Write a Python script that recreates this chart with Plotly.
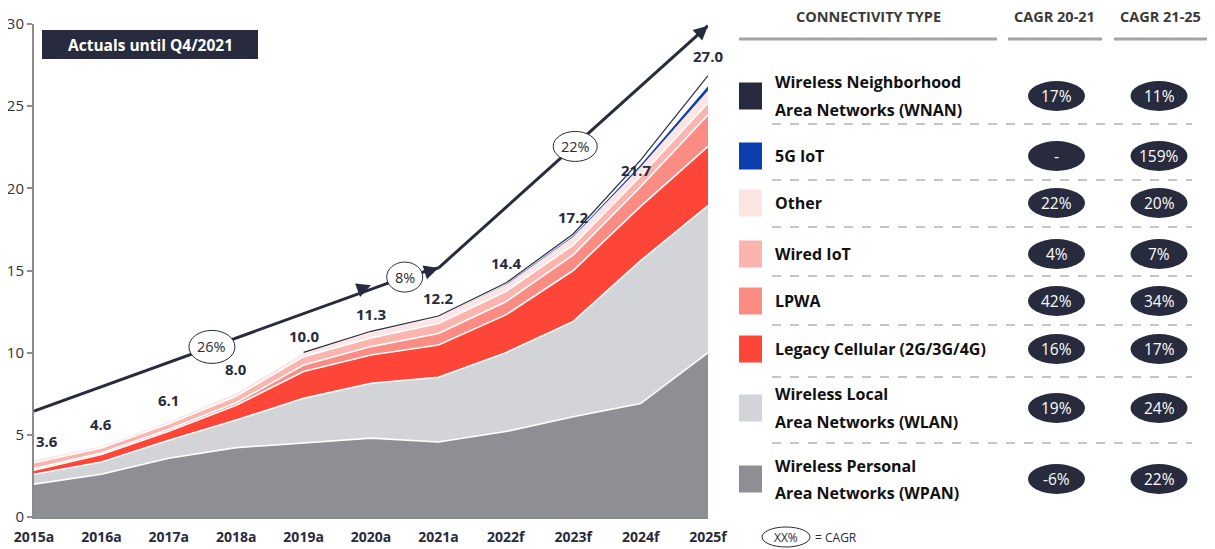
import plotly.graph_objects as go
import numpy as np

# ---------------- data ----------------
years = ["2015a", "2016a", "2017a", "2018a", "2019a", "2020a", "2021a", "2022f", "2023f", "2024f", "2025f"]
wpan = [2.0, 2.6, 3.57, 4.22, 4.5, 4.8, 4.56, 5.2, 6.1, 6.9, 10.0]
wlan = [0.6, 0.75, 1.1, 1.68, 2.72, 3.34, 3.94, 4.8, 5.8, 8.7, 8.95]
legacy = [0.25, 0.45, 0.55, 0.9, 1.63, 1.72, 1.97, 2.3, 3.1, 3.3, 3.6]
lpwa = [0.1, 0.1, 0.12, 0.15, 0.4, 0.51, 0.7, 0.8, 0.95, 1.2, 1.93]
wired = [0.35, 0.3, 0.34, 0.4, 0.51, 0.53, 0.61, 0.62, 0.6, 0.65, 0.73]
other = [0.15, 0.1, 0.12, 0.18, 0.21, 0.34, 0.37, 0.4, 0.5, 0.55, 0.75]
g5iot = [0, 0, 0, 0, 0, 0, 0, 0.02, 0.05, 0.12, 0.25]
wnan = [0, 0, 0, 0, 0.05, 0.06, 0.08, 0.1, 0.12, 0.3, 0.65]
totals = [3.6, 4.6, 6.1, 8.0, 10.0, 11.3, 12.2, 14.4, 17.2, 21.7, 27.0]
y_ticks = [0, 5, 10, 15, 20, 25, 30]

cagr_labels = ["26%", "8%", "22%"]
conn_types = ["Wireless Neighborhood<br>Area Networks (WNAN)", "5G IoT", "Other", "Wired IoT", "LPWA",
              "Legacy Cellular (2G/3G/4G)", "Wireless Local<br>Area Networks (WLAN)",
              "Wireless Personal<br>Area Networks (WPAN)"]
cagr_20_21 = ["17%", "-", "22%", "4%", "42%", "16%", "19%", "-6%"]
cagr_21_25 = ["11%", "159%", "20%", "7%", "34%", "17%", "24%", "22%"]
headers = ["CONNECTIVITY TYPE", "CAGR 20-21", "CAGR 21-25"]

# ---------------- styles ----------------
C_WNAN = "#272b3d"
C_5G = "#0b3fae"
C_OTHER = "#fde5e3"
C_WIRED = "#fbb5ae"
C_LPWA = "#fa8c83"
C_LEG = "#fd4538"
C_WLAN = "#d3d4d7"
C_WPAN = "#8d8f95"
DARK = "#272b3d"
FONT = "Open Sans, sans-serif"

OFF = 8                      # page body margin
W, H = 1215 - OFF, 549 - OFF
L, R, T, B = 34 - OFF, 0, 24 - OFF, 549 - 517
PW, PH = W - L - R, H - T - B


def PX(px):
    return (px - OFF - L) / PW


def PY(py):
    return (H - B - (py - OFF)) / PH


xi = list(range(len(years)))
fig = go.Figure()

layers = [
    ("WPAN", wpan, C_WPAN, "white", 1.6),
    ("WLAN", wlan, C_WLAN, "white", 1.6),
    ("Legacy", legacy, C_LEG, "white", 1.6),
    ("LPWA", lpwa, C_LPWA, "white", 1.6),
    ("Wired", wired, C_WIRED, "white", 1.6),
    ("Other", other, C_OTHER, "white", 0),
    ("5G IoT", g5iot, C_5G, C_5G, 0),
    ("WNAN", wnan, "rgba(255,255,255,0)", "white", 0),
]
for name, vals, fc, lc, lw in layers:
    fig.add_trace(go.Scatter(
        x=xi, y=vals, name=name, stackgroup="one", mode="lines",
        line=dict(color=lc, width=lw), fillcolor=fc, hoverinfo="skip",
    ))

# total outline (visible where WNAN exists)
top = np.sum([wpan, wlan, legacy, lpwa, wired, other, g5iot, wnan], axis=0)
fig.add_trace(go.Scatter(x=xi[4:], y=top[4:], mode="lines",
                         line=dict(color=DARK, width=1.2), hoverinfo="skip"))

shapes = []
annotations = []

# data labels
for i, t in enumerate(totals):
    xs, ys = 0, 17
    if i == 0:
        xs = 13
    if i == 6:
        ys = 19
    if i == 9:
        xs, ys = -5, -10
    annotations.append(dict(x=i, y=t, xref="x", yref="y", text=f"{t:.1f}", showarrow=False,
                            xanchor="center", yanchor="middle", xshift=xs, yshift=ys,
                            font=dict(family=FONT, size=15, color=DARK, weight="bold")))

# CAGR arrows (lines)
arrow_lines = [((0, 6.45), (5.5, 14.6)), ((5.5, 14.6), (6.0, 15.15)), ((6.0, 15.15), (10.0, 29.9))]
for (x0, y0), (x1, y1) in arrow_lines:
    shapes.append(dict(type="line", xref="x", yref="y", x0=x0, y0=y0, x1=x1, y1=y1,
                       line=dict(color=DARK, width=3), layer="above"))

# ellipses with CAGR
ell = [(2.64, 10.35, 46, 33), (5.5, 14.6, 36, 30), (8.03, 22.55, 44, 30)]
for (cx, cy, wpx, hpx), lab in zip(ell, cagr_labels):
    dx = wpx / 2 / 67.4
    dy = hpx / 2 / 16.433
    shapes.append(dict(type="circle", xref="x", yref="y", x0=cx - dx, x1=cx + dx, y0=cy - dy, y1=cy + dy,
                       fillcolor="white", line=dict(color=DARK, width=1), layer="above"))
    annotations.append(dict(x=cx, y=cy, xref="x", yref="y", text=lab, showarrow=False,
                            xanchor="center", yanchor="middle",
                            font=dict(family=FONT, size=14.5, color=DARK)))

# arrowheads
for (x, y, ax, ay) in [(5.0, 14.1, -9.4, 3.5), (6.0, 15.15, -9.5, 3.0), (10.0, 29.9, -7.4, 6.7)]:
    annotations.append(dict(x=x, y=y, xref="x", yref="y", ax=ax, ay=ay, text="", showarrow=True,
                            arrowhead=2, arrowsize=1.1, arrowwidth=2.6, arrowcolor=DARK, standoff=0))

# Actuals box
shapes.append(dict(type="rect", xref="paper", yref="paper", x0=PX(42), x1=PX(258), y0=PY(59), y1=PY(30),
                   fillcolor=DARK, line=dict(width=0), layer="above"))
annotations.append(dict(x=PX(150), y=PY(45), xref="paper", yref="paper", text="Actuals until Q4/2021",
                        showarrow=False, xanchor="center", yanchor="middle",
                        font=dict(family=FONT, size=15.5, color="white", weight="bold")))

# ---------------- table ----------------
hdr_x = [868, 1054, 1160]
for hx, h in zip(hdr_x, headers):
    annotations.append(dict(x=PX(hx), y=PY(17), xref="paper", yref="paper", text=h, showarrow=False,
                            xanchor="center", yanchor="middle",
                            font=dict(family=FONT, size=14.5, color="#3a3a3a", weight="bold")))
for x0, x1 in [(739, 997), (1008, 1102), (1114, 1207)]:
    shapes.append(dict(type="line", xref="paper", yref="paper", x0=PX(x0), x1=PX(x1), y0=PY(39), y1=PY(39),
                       line=dict(color="#a3a3a3", width=3)))

row_y = [96, 156, 203, 254, 301, 349, 408, 479]
dash_y = [124, 180, 227, 276, 325, 377, 443]
sq_colors = [C_WNAN, C_5G, C_OTHER, C_WIRED, C_LPWA, C_LEG, C_WLAN, C_WPAN]
for ry, name, c1, c2, sc in zip(row_y, conn_types, cagr_20_21, cagr_21_25, sq_colors):
    shapes.append(dict(type="rect", xref="paper", yref="paper", x0=PX(739), x1=PX(762),
                       y0=PY(ry + 13.5), y1=PY(ry - 13.5), fillcolor=sc, line=dict(width=0)))
    lines = name.split("<br>")
    offs = [0] if len(lines) == 1 else [-13.5, 13.5]
    for ln, off in zip(lines, offs):
        annotations.append(dict(x=PX(773), y=PY(ry + off), xref="paper", yref="paper", text=ln,
                                showarrow=False, xanchor="left", yanchor="middle",
                                font=dict(family=FONT, size=16, color="#111111", weight="bold")))
    for cx, txt in [(1056.5, c1), (1159, c2)]:
        shapes.append(dict(type="circle", xref="paper", yref="paper", x0=PX(cx - 28.5), x1=PX(cx + 28.5),
                           y0=PY(ry + 15), y1=PY(ry - 15), fillcolor=DARK, line=dict(width=0)))
        annotations.append(dict(x=PX(cx), y=PY(ry), xref="paper", yref="paper", text=txt, showarrow=False,
                                xanchor="center", yanchor="middle",
                                font=dict(family=FONT, size=15.5, color="white")))
for dy in dash_y:
    shapes.append(dict(type="line", xref="paper", yref="paper", x0=PX(772), x1=PX(1192), y0=PY(dy), y1=PY(dy),
                       line=dict(color="#8a8a8a", width=1, dash="dash")))

# footnote
shapes.append(dict(type="circle", xref="paper", yref="paper", x0=PX(762), x1=PX(810), y0=PY(547), y1=PY(527),
                   fillcolor="white", line=dict(color=DARK, width=1)))
annotations.append(dict(x=PX(786), y=PY(537), xref="paper", yref="paper", text="XX%", showarrow=False,
                        xanchor="center", yanchor="middle", font=dict(family=FONT, size=12, color=DARK)))
annotations.append(dict(x=PX(813), y=PY(537), xref="paper", yref="paper", text="= CAGR", showarrow=False,
                        xanchor="left", yanchor="middle", font=dict(family=FONT, size=12, color=DARK)))

fig.update_layout(
    width=W, height=H,
    margin=dict(l=L, r=R, t=T, b=B, autoexpand=False),
    paper_bgcolor="white", plot_bgcolor="white",
    showlegend=False,
    shapes=shapes, annotations=annotations,
    xaxis=dict(domain=[0, (708 - OFF - L) / PW], range=[0, 10], tickmode="array", tickvals=xi, ticktext=years,
               showgrid=False, zeroline=False, showline=True, linecolor="#8c8c8c", linewidth=2,
               ticks="", ticklabelstandoff=6,
               tickfont=dict(family=FONT, size=14, color=DARK, weight="bold")),
    yaxis=dict(range=[0, 30], tickmode="array", tickvals=y_ticks, showgrid=False, zeroline=False,
               showline=True, linecolor="#8c8c8c", linewidth=2, ticks="outside", ticklen=5,
               tickcolor="#8c8c8c", tickwidth=1.5,
               tickfont=dict(family=FONT, size=15, color="#333333")),
)

fig.write_html("out.html")
